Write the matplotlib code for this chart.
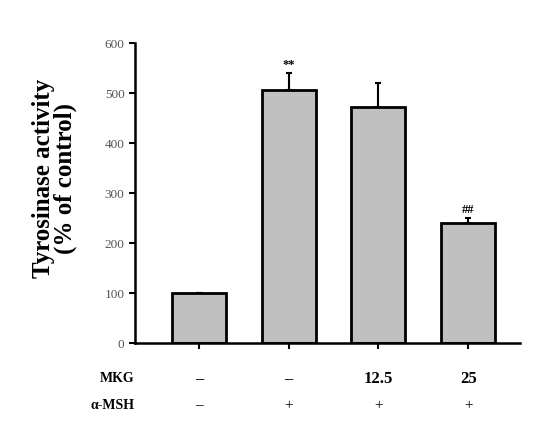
import matplotlib.pyplot as plt
import numpy as np

plt.rcParams.update({
    "font.family": "serif",
    "font.serif": ["Liberation Serif", "DejaVu Serif"],
})

# data
groups = ['ctrl', 'aMSH', 'MKG 12.5', 'MKG 25']
activity = [100, 506, 472, 241]
err_up = [0, 34, 48, 10]
marks = ['', '**', '', '##']
mkg_row = ['–', '–', '12.5', '25']
msh_row = ['–', '+', '+', '+']

fig = plt.figure(figsize=(5.38, 4.32), dpi=100)
ax = fig.add_axes([0.251, 0.206, 0.716, 0.694])

x = np.arange(len(groups))
ax.bar(x, activity, width=0.6, color='#c0c0c0', edgecolor='black', linewidth=2, zorder=2)
ax.errorbar(x, activity, yerr=[np.zeros(len(x)), err_up], fmt='none',
            ecolor='black', elinewidth=1.5, capsize=2, capthick=1.5, zorder=1)

for xi, v, e, m in zip(x, activity, err_up, marks):
    if m:
        ax.text(xi, v + e + 4, m, ha='center', va='bottom', fontsize=9, fontweight='bold')

ax.set_xlim(-0.71, 3.58)
ax.set_ylim(0, 600)
ax.set_yticks(range(0, 601, 100))
ax.set_xticks(x)
ax.set_xticklabels([])
ax.tick_params(axis='y', labelsize=9.5, labelcolor='#555555', width=1.5, length=4)
ax.tick_params(axis='x', width=1.5, length=4)
for s in ['top', 'right']:
    ax.spines[s].set_visible(False)
for s in ['left', 'bottom']:
    ax.spines[s].set_linewidth(1.8)

ax.set_ylabel('Tyrosinase activity\n(% of control)', fontsize=18, fontweight='bold',
              linespacing=0.95)
ax.yaxis.set_label_coords(-0.15, 0.55)

# treatment rows
trans = ax.get_xaxis_transform()
ax.text(-0.72, -0.12, 'MKG', transform=trans, ha='right', va='center', fontsize=10, fontweight='bold')
ax.text(-0.72, -0.21, 'α-MSH', transform=trans, ha='right', va='center', fontsize=10, fontweight='bold')
for xi, a, b in zip(x, mkg_row, msh_row):
    ax.text(xi, -0.12, a, transform=trans, ha='center', va='center', fontsize=12, fontweight='bold')
    ax.text(xi, -0.21, b, transform=trans, ha='center', va='center', fontsize=11,
            fontweight='bold' if b == '–' else 'normal')

plt.savefig('out.png', dpi=100)
